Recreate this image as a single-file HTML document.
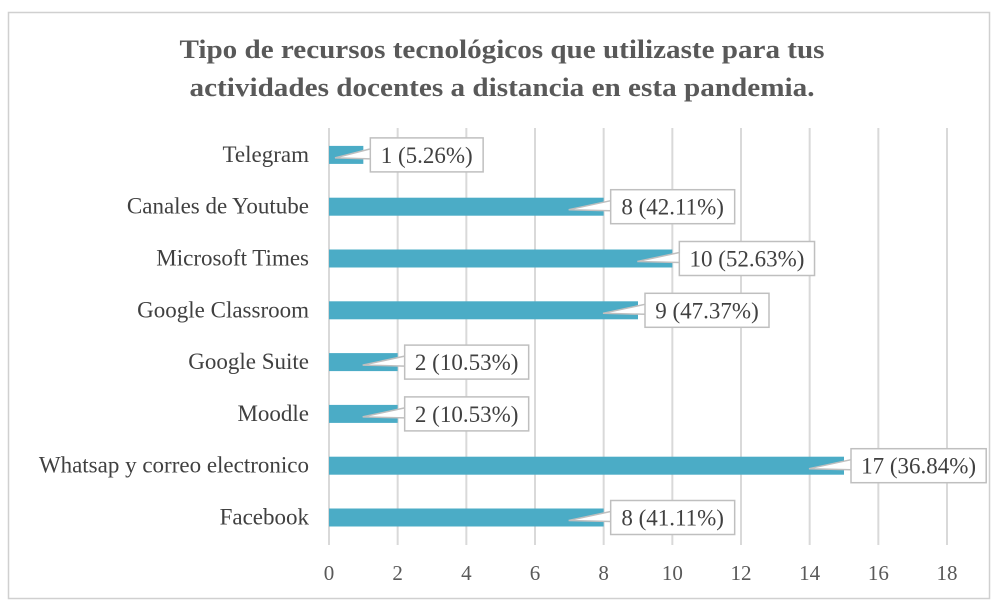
<!DOCTYPE html>
<html><head><meta charset="utf-8"><style>
body{margin:0;background:#fff;}
svg{display:block;font-family:"Liberation Serif",serif;}
</style></head><body>
<svg id="chart" width="1003" height="614" viewBox="0 0 1003 614">
<rect x="8.5" y="12.5" width="981" height="586" fill="#fff" stroke="#d0d0d0" stroke-width="1.5"/>
<text x="502" y="58" text-anchor="middle" font-size="26" font-weight="bold" fill="#595959" textLength="645" lengthAdjust="spacingAndGlyphs">Tipo de recursos tecnológicos que utilizaste para tus</text>
<text x="502" y="96" text-anchor="middle" font-size="26" font-weight="bold" fill="#595959" textLength="625" lengthAdjust="spacingAndGlyphs">actividades docentes a distancia en esta pandemia.</text>
<g id="grid"></g><g id="bars"></g><g id="labels"></g>
</svg>
<script>
const categories=["Telegram","Canales de Youtube","Microsoft Times","Google Classroom","Google Suite","Moodle","Whatsap y correo electronico","Facebook"];
const values=[1,8,10,9,2,2,15,8];
const valueLabels=["1 (5.26%)","8 (42.11%)","10 (52.63%)","9 (47.37%)","2 (10.53%)","2 (10.53%)","17 (36.84%)","8 (41.11%)"];
const ticks=[0,2,4,6,8,10,12,14,16,18];
const NS="http://www.w3.org/2000/svg";
const x0=329,x1=947,xMax=18;
const xs=v=>x0+(x1-x0)*v/xMax;
const yTop=129,rowH=51.8;
const yc=i=>yTop+rowH*(i+0.5);
function mk(t,a,p){const e=document.createElementNS(NS,t);for(const k in a)e.setAttribute(k,a[k]);p.appendChild(e);return e;}
const grid=document.getElementById('grid'),bars=document.getElementById('bars'),labels=document.getElementById('labels');
ticks.forEach(t=>{
 const l=mk('line',{x1:xs(t),x2:xs(t),y1:128,y2:545,stroke:'#d9d9d9','stroke-width':2},grid);
 
 
 const tx=mk('text',{x:xs(t),y:580,'text-anchor':'middle','font-size':21,fill:'#595959'},grid);
 tx.textContent=t;
 
 
});
categories.forEach((c,i)=>{
 const y=yc(i);
 const cl=mk('text',{x:309,y:y+7,'text-anchor':'end','font-size':23,fill:'#404040'},labels);
 cl.textContent=c;
 
 
 const xe=xs(values[i]);
 const b=mk('rect',{x:x0,y:y-9,width:xe-x0,height:18,fill:'#4bacc6'},bars);
 
 
 const w=valueLabels[i].length*11.2+12, bx=xe+7, by=y-17;
 const g=mk('g',{},labels);
 
 
 const px=Math.max(xe-35,x0+6);
 mk('path',{d:`M${bx},${y-6} L${px},${y+3} L${bx},${y+4}`,fill:'#fff',stroke:'#bfbfbf','stroke-width':1.5},g);
 mk('rect',{x:bx,y:by,width:w,height:34,fill:'#fff',stroke:'#bfbfbf','stroke-width':1.5},g);
 mk('rect',{x:bx+1,y:y-5,width:3,height:8,fill:'#fff'},g);
 const vt=mk('text',{x:bx+w/2,y:y+8,'text-anchor':'middle','font-size':23,fill:'#404040'},g);
 vt.textContent=valueLabels[i];
});
</script>
</body></html>
